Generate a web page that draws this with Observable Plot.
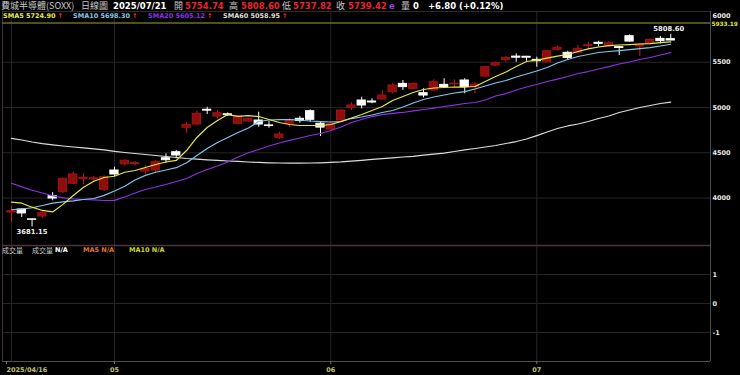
<!DOCTYPE html>
<html><head><meta charset="utf-8">
<script src="https://cdn.jsdelivr.net/npm/d3@7"></script>
<script src="https://cdn.jsdelivr.net/npm/@observablehq/plot@0.6"></script>
<style>
html,body{margin:0;padding:0;background:#000;}
#wrap{position:relative;width:740px;height:375px;background:#000;overflow:hidden;font-family:"DejaVu Sans",sans-serif;}
#wrap svg{position:absolute;left:0;}
.t{position:absolute;white-space:nowrap;line-height:1;}
.cjk{font-family:"Noto Sans CJK TC",sans-serif;color:#c8c8c8;font-weight:normal;}
.b{font-weight:bold;font-family:"DejaVu Sans",sans-serif;}
.r1{top:1.5px;font-size:8.5px;}
.cjk.r1{top:1.2px;font-size:9px;line-height:1.2;}
.r2{top:12.5px;font-size:6.5px;}
.rv{top:246.5px;font-size:6.5px;}
.cjk.rv{top:245.5px;font-size:7px;line-height:1.2;}
</style></head><body><div id="wrap"></div>
<script>
const dates = ["2025-04-16","2025-04-17","2025-04-21","2025-04-22","2025-04-23","2025-04-24","2025-04-25","2025-04-28","2025-04-29","2025-04-30",
"2025-05-01","2025-05-02","2025-05-05","2025-05-06","2025-05-07","2025-05-08","2025-05-09","2025-05-12","2025-05-13","2025-05-14",
"2025-05-15","2025-05-16","2025-05-19","2025-05-20","2025-05-21","2025-05-22","2025-05-23","2025-05-27","2025-05-28","2025-05-29",
"2025-05-30","2025-06-02","2025-06-03","2025-06-04","2025-06-05","2025-06-06","2025-06-09","2025-06-10","2025-06-11","2025-06-12",
"2025-06-13","2025-06-16","2025-06-17","2025-06-18","2025-06-20","2025-06-23","2025-06-24","2025-06-25","2025-06-26","2025-06-27",
"2025-06-30","2025-07-01","2025-07-02","2025-07-03","2025-07-07","2025-07-08","2025-07-09","2025-07-10","2025-07-11","2025-07-14",
"2025-07-15","2025-07-16","2025-07-17","2025-07-18","2025-07-21"];
const openP = [3840,3874,3765,3796,4020,4065,4157,4212,4205,4091, 4304,4372,4376,4293,4304,4440,4506,4776,4812,4975, 4900,4925,4820,4845,4856,4802,4665,4820,4875,4959, 4820,4757,4856,4996,5077,5066,5088,5169,5261,5206, 5158,5188,5250,5255,5298,5224,5342,5463,5526,5562, 5560,5526,5500,5637,5604,5604,5680,5714,5677,5666, 5787,5673,5703,5758,5754.74];
const highP = [3907,3880,3768,3851,4060,4220,4285,4268,4238,4246, 4341,4422,4404,4360,4415,4488,4525,4831,4959,5003, 4967,4940,4910,4880,4948,4845,4727,4875,4900,4974, 4837,4830,4972,5052,5113,5096,5188,5261,5298,5270, 5206,5305,5317,5305,5317,5279,5452,5500,5563,5593, 5565,5555,5630,5677,5621,5684,5721,5732,5728,5677, 5802,5703,5758,5783,5808.60];
const lowP = [3730,3785,3681.15,3777,3970,4047,4146,4146,4175,4072, 4238,4352,4352,4260,4274,4385,4434,4716,4804,4922, 4875,4900,4815,4838,4782,4772,4646,4776,4827,4837, 4680,4750,4850,4967,4985,5041,5085,5151,5188,5200, 5107,5180,5220,5224,5151,5151,5335,5452,5500,5500, 5510,5445,5495,5621,5519,5593,5637,5666,5666,5574, 5720,5563,5695,5703,5737.82];
const closeP = [3855,3830,3760,3833,3995,4213,4260,4225,4218,4230, 4260,4412,4386,4323,4396,4418,4470,4809,4930,4965, 4937,4915,4900,4875,4812,4795,4702,4864,4850,4864, 4778,4815,4967,5022,5022,5055,5132,5243,5225,5261, 5132,5279,5225,5262,5224,5253,5445,5489,5548,5550, 5550,5511,5621,5659,5548,5648,5688,5703,5710,5657, 5728,5695,5747,5732.62,5739.42];
const sma5 = [3954,3943,3899,3863,3847,3930,4028,4120,4186,4227, 4241,4285,4304,4337,4370,4398,4415,4525,4669,4779, 4856,4922,4902,4911,4900,4867,4834,4812,4801,4801, 4801,4812,4845,4884,4922,4967,5011,5077,5121,5165, 5199,5215,5221,5226,5226,5232,5287,5342,5392,5452, 5508,5524,5546,5568,5585,5618,5648,5668,5684,5690, 5695,5701,5706,5717,5724.90];
const sma10 = [3871,3879,3893,3918,3943,3957,3968,3984,3995,4030, 4078,4130,4200,4250,4285,4310,4335,4390,4470,4547, 4613,4669,4724,4773,4845,4862,4867,4867,4862,4851, 4845,4840,4845,4878,4895,4917,4945,4967,5005,5050, 5088,5116,5138,5160,5176,5204,5237,5270,5298,5337, 5370,5403,5441,5491,5530,5563,5585,5607,5618,5629, 5640,5651,5662,5679,5698.30];
const sma20 = [4164,4124,4086,4056,4025,4001,3990,3984,3979,3973, 3975,4012,4056,4094,4122,4150,4183,4216,4271,4315, 4354,4398,4453,4500,4536,4575,4608,4636,4663,4691, 4713,4746,4785,4834,4867,4900,4922,4934,4945,4962, 4978,4994,5011,5027,5044,5055,5083,5127,5154,5193, 5226,5254,5287,5314,5342,5375,5397,5425,5452,5480, 5502,5530,5552,5580,5605.12];
const sma60 = [4659,4641,4619,4602,4588,4575,4564,4553,4542,4531, 4516,4503,4492,4481,4470,4459,4448,4437,4429,4422, 4415,4409,4404,4398,4393,4389,4387,4386,4386,4387, 4389,4393,4399,4408,4417,4426,4435,4444,4453,4461, 4475,4486,4497,4514,4531,4547,4564,4580,4602,4624, 4652,4690,4729,4768,4796,4818,4845,4878,4906,4945, 4972,5000,5022,5044,5058.95];
const xTickIdx = [0, 10, 31, 51];
const xTickLabels = ["2025/04/16", "05", "06", "07"];
const yTicks = [4000, 4500, 5000, 5500, 6000];
const volTicks = [-1, 0, 1];
const refLevel = 5933.19;
const smaNames = ["SMA5", "SMA10", "SMA20", "SMA60"];
const smaColors = ["#e8e84a", "#7fc6ea", "#8e2fe6", "#dcdcdc"];

const data = dates.map((d, i) => ({i, date: d, o: openP[i], h: highP[i], l: lowP[i], c: closeP[i], up: closeP[i] >= openP[i]}));
const xDomain = [-0.87, 67.86];
const last = data[data.length - 1];
const tickLabel = v => xTickLabels[xTickIdx.indexOf(v)];

const main = Plot.plot({
  width: 740, height: 245, marginTop: 11, marginBottom: 0, marginLeft: 2, marginRight: 30,
  style: {background: "transparent", color: "#e8e8e8", fontFamily: "DejaVu Sans", fontSize: "6.5px", fontWeight: "bold", overflow: "visible"},
  x: {domain: xDomain, axis: null},
  y: {domain: [3476, 6060], axis: null},
  color: {type: "identity"},
  marks: [
    Plot.ruleY([6060], {stroke: "#2c2c2c"}),
    Plot.gridY([4000, 4500, 5000, 5500], {stroke: "#262626", strokeOpacity: 1}),
    Plot.ruleX(xTickIdx, {stroke: "#262626"}),
    Plot.ruleX([xDomain[0]], {stroke: "#3a2f3a"}),
    Plot.ruleX([xDomain[1]], {stroke: "#4e4e4e"}),
    Plot.ruleY([refLevel], {stroke: "#6c6c28", strokeWidth: 1.5}),
    Plot.ruleX(data, {x: "i", y1: "l", y2: "h", stroke: d => d.up ? "#c81e1e" : "#ffffff", strokeWidth: 1}),
    Plot.rect(data, {x1: d => d.i - 0.4, x2: d => d.i + 0.4, y1: "o", y2: "c",
      fill: d => d.up ? "#8e0d0d" : "#ffffff", stroke: d => d.up ? "#a31212" : "#ffffff", strokeWidth: 1}),
    Plot.lineY(sma60, {stroke: smaColors[3], strokeWidth: 1.2}),
    Plot.lineY(sma20, {stroke: smaColors[2], strokeWidth: 1.2}),
    Plot.lineY(sma10, {stroke: smaColors[1], strokeWidth: 1.2}),
    Plot.lineY(sma5, {stroke: smaColors[0], strokeWidth: 1.2}),
    Plot.text([last], {x: "i", y: "h", text: d => d.h.toFixed(2), dy: -5, dx: -2, fill: "#eeeeee", fontSize: 6.8}),
    Plot.text([data[2]], {x: "i", y: "l", text: d => d.l.toFixed(2), dy: 5, fill: "#eeeeee", fontSize: 6.8}),
    Plot.axisY(yTicks.slice(0, 4), {anchor: "right", tickSize: 0, tickPadding: 2, textAnchor: "start", tickFormat: d => String(d), fill: "#e8e8e8"}),
    Plot.axisY(yTicks.slice(4), {anchor: "right", tickSize: 0, tickPadding: 2, textAnchor: "start", dy: -1.5, tickFormat: d => String(d), fill: "#e8e8e8"}),
    Plot.text([refLevel], {y: d => d, text: d => d.toFixed(2), frameAnchor: "right", dx: 1, dy: 1, textAnchor: "start", fill: "#e6e63c", fontSize: 5.8})
  ]
});
main.style.top = "0px";

const vol = Plot.plot({
  width: 740, height: 130, marginTop: 0, marginBottom: 14, marginLeft: 2, marginRight: 30,
  style: {background: "transparent", color: "#e8e8e8", fontFamily: "DejaVu Sans", fontSize: "6.5px", fontWeight: "bold", overflow: "visible"},
  x: {domain: xDomain, axis: null},
  y: {domain: [-2, 2], axis: null},
  marks: [
    Plot.gridY(volTicks, {stroke: "#262626", strokeOpacity: 1}),
    Plot.ruleX(xTickIdx, {stroke: "#262626"}),
    Plot.ruleX([xDomain[0]], {stroke: "#3a2f3a"}),
    Plot.ruleX([xDomain[1]], {stroke: "#4e4e4e"}),
    Plot.ruleY([-2], {stroke: "#4e4e4e"}),
    Plot.ruleY([2], {stroke: "#4b3442", strokeWidth: 1.5}),
    Plot.axisY(volTicks, {anchor: "right", tickSize: 0, tickPadding: 2, textAnchor: "start", tickFormat: d => String(d), fill: "#e8e8e8"}),
    Plot.axisX([xTickIdx[0]], {anchor: "bottom", tickSize: 3, tickPadding: 3, textAnchor: "start", dx: -5, tickFormat: tickLabel, stroke: "#777", fill: "#c2c26e"}),
    Plot.axisX(xTickIdx.slice(1), {anchor: "bottom", tickSize: 3, tickPadding: 3, tickFormat: tickLabel, stroke: "#777", fill: "#c2c26e"})
  ]
});
vol.style.top = "245px";

const wrap = document.getElementById("wrap");
wrap.appendChild(main);
wrap.appendChild(vol);

const fmt = v => v.toFixed(2);
const red = "#e8262c";
const items = [
  ["cjk r1", 1, "費城半導體(SOXX)", null],
  ["cjk r1", 81, "日線圖", null],
  ["b r1", 113, last.date.replace(/-/g, "/"), "#ffffff"],
  ["cjk r1", 174, "開", null], ["b r1", 185, fmt(last.o), red],
  ["cjk r1", 229, "高", null], ["b r1", 241, fmt(last.h), red],
  ["cjk r1", 282, "低", null], ["b r1", 293, fmt(last.l), red],
  ["cjk r1", 336, "收", null], ["b r1", 348, fmt(last.c), red],
  ["b r1", 389, "e", "#8a4ae0"],
  ["cjk r1", 401, "量", null], ["b r1", 413, "0", "#ffffff"],
  ["b r1", 428, "+" + (last.c - closeP[closeP.length - 2]).toFixed(2) + " (+" + ((last.c / closeP[closeP.length - 2] - 1) * 100).toFixed(2) + "%)", "#ffffff"],
  ["cjk rv", 2, "成交量", null],
  ["cjk rv", 32, "成交量", null], ["b rv", 55, "N/A", "#ffffff"],
  ["b rv", 83, "MA5 N/A", "#e0731f"],
  ["b rv", 129, "MA10 N/A", "#cdd42a"]
];
for (const [cls, x, txt, col] of items) {
  const s = document.createElement("span");
  s.className = "t " + cls;
  s.style.left = x + "px";
  if (col) s.style.color = col;
  s.textContent = txt;
  wrap.appendChild(s);
}
const smaVals = [sma5, sma10, sma20, sma60].map(a => a[a.length - 1]);
const smaX = [3, 73, 148, 223];
smaNames.forEach((n, k) => {
  const s = document.createElement("span");
  s.className = "t b r2";
  s.style.left = smaX[k] + "px";
  s.style.color = smaColors[k];
  s.textContent = n + " " + fmt(smaVals[k]);
  const a = document.createElement("span");
  a.textContent = "↑";
  a.style.color = "#ff2a2a";
  a.style.marginLeft = "2px";
  s.appendChild(a);
  wrap.appendChild(s);
});
</script></body></html>
